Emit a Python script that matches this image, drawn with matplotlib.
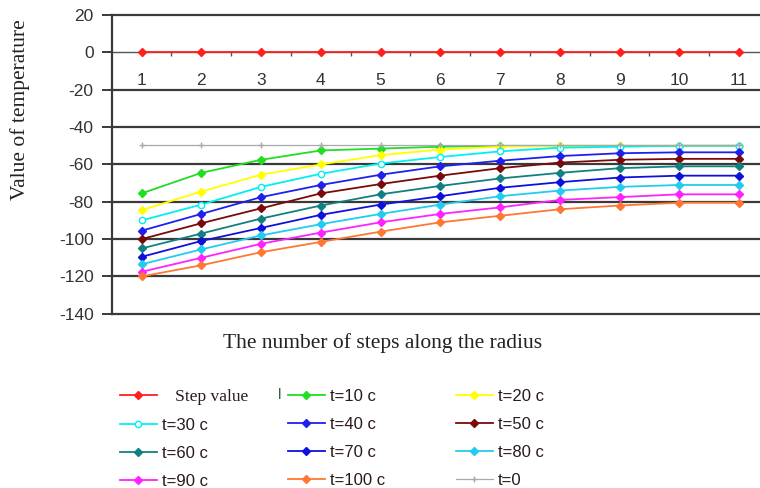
import matplotlib
matplotlib.use("Agg")
import matplotlib.pyplot as plt

# data
steps = [1, 2, 3, 4, 5, 6, 7, 8, 9, 10, 11]
step_value = [0, 0, 0, 0, 0, 0, 0, 0, 0, 0, 0]
t0 = [-49.5, -49.5, -49.5, -49.5, -49.5, -49.5, -49.5, -49.5, -49.5, -49.5, -49.5]
t10 = [-75.5, -64.5, -57.5, -52.5, -51.5, -50.5, -50, -50, -50, -50, -50]
t20 = [-84.5, -74.5, -65.5, -60, -55, -52, -50.5, -50, -50, -50, -50]
t30 = [-90, -81.5, -72, -65, -59.5, -56, -53, -51, -50.5, -50, -50]
t40 = [-95.5, -86.5, -77.5, -71, -65.5, -61, -58, -55.5, -54, -53.5, -53.5]
t50 = [-100, -91.5, -83.5, -75.5, -70.5, -66, -62, -59, -57.5, -57, -57]
t60 = [-105, -97, -89, -82, -76, -71.5, -67.5, -64.5, -62, -61, -61]
t70 = [-109.5, -101, -94, -87, -81.5, -77, -72.5, -69.5, -67, -66, -66]
t80 = [-113.5, -105.5, -98, -92, -86.5, -81.5, -77, -74, -72, -71, -71]
t90 = [-117.5, -110, -102.5, -96.5, -91, -86.5, -83, -79, -77.5, -76, -76]
t100 = [-120, -114, -107, -101.5, -96, -91, -87.5, -84, -82, -80.5, -80.5]

y_ticks = [20, 0, -20, -40, -60, -80, -100, -120, -140]
grid_levels = [20, -20, -40, -60, -80, -100, -120, -140]

series = [
    ("Step value", step_value, "#ff2020", "D", "#ff2020"),
    ("t=10 c", t10, "#22dd22", "D", "#22dd22"),
    ("t=20 c", t20, "#ffff00", "D", "#ffff00"),
    ("t=30 c", t30, "#00f0f0", "o", "white"),
    ("t=40 c", t40, "#2020ee", "D", "#2020ee"),
    ("t=50 c", t50, "#7a0a0a", "D", "#7a0a0a"),
    ("t=60 c", t60, "#118080", "D", "#118080"),
    ("t=70 c", t70, "#1010dd", "D", "#1010dd"),
    ("t=80 c", t80, "#22ccee", "D", "#22ccee"),
    ("t=90 c", t90, "#ff22ff", "D", "#ff22ff"),
    ("t=100 c", t100, "#ff7733", "D", "#ff7733"),
    ("t=0", t0, "#a8a8b0", "+", "#a8a8b0"),
]

plt.rcParams['font.family'] = ['Liberation Sans', 'DejaVu Sans']
plt.rcParams['axes.unicode_minus'] = False

fig = plt.figure(figsize=(7.6, 4.88), dpi=100)
ax = fig.add_axes([0.147, 0.357, 0.853, 0.612])
ax.set_xlim(0.5, 11.35)
ax.set_ylim(-140, 20)

for lev in grid_levels:
    ax.axhline(lev, color="#3a3a3a", lw=1.6, clip_on=False, zorder=1)

handles = {}
for name, vals, c, m, fc in series:
    lw = 0.9 if name == "t=0" else 1.3
    ms = 4 if m == "D" else 4.5
    ln, = ax.plot(steps, vals, color=c, lw=lw, marker=m, ms=ms,
                  markerfacecolor=fc, markeredgecolor=c, markeredgewidth=1.0, zorder=3)
    handles[name] = ln

ax.spines['top'].set_visible(False)
ax.spines['right'].set_visible(False)
ax.spines['left'].set_color("#3a3a3a")
ax.spines['left'].set_linewidth(1.6)
ax.spines['bottom'].set_position(('data', 0))
ax.spines['bottom'].set_color("#555555")
ax.spines['bottom'].set_linewidth(1.0)
ax.spines['bottom'].set_zorder(2)

ax.set_yticks(y_ticks)
ax.tick_params(axis='y', length=7, width=1.4, color="#3a3a3a", labelsize=12.5,
               labelcolor="#333333", pad=6)
ax.set_xticks(steps)
ax.set_xticks([s + 0.5 for s in steps[:-1]], minor=True)
ax.tick_params(axis='x', which='major', length=0, labelsize=12.5, labelcolor="#333333", pad=15)
ax.tick_params(axis='x', which='minor', length=3, width=1.0, color="#555555")

fig.text(0.026, 0.775, "Value of temperature", rotation=90, ha='center', va='center',
         family='Liberation Serif', fontsize=15.5, color="#222222")
fig.text(0.503, 0.297, "The number of steps along the radius", ha='center', va='center',
         family='Liberation Serif', fontsize=15.5, color="#222222")

# legend drawn as three columns
columns = [
    ["Step value", "t=30 c", "t=60 c", "t=90 c"],
    ["t=10 c", "t=40 c", "t=70 c", "t=100 c"],
    ["t=20 c", "t=50 c", "t=80 c", "t=0"],
]
col_x = [0.158, 0.379, 0.600]
for i, names in enumerate(columns):
    hs = [handles[n] for n in names]
    labels = ["   Step value" if n == "Step value" else n for n in names]
    leg = fig.legend(hs, labels, loc='upper left', bbox_to_anchor=(col_x[i], 0.203),
                     frameon=False, fontsize=12, handlelength=2.2, handletextpad=0.3,
                     labelspacing=0.78, borderaxespad=0, borderpad=0)
    for t in leg.get_texts():
        t.set_color("#2a1a1a")
        if t.get_text().strip() == "Step value":
            t.set_fontfamily('Liberation Serif')
            t.set_fontsize(12.5)

fig.text(0.368, 0.19, "l", color="#336633", fontsize=11, ha='center', va='center')

fig.savefig("out.png", dpi=100)
